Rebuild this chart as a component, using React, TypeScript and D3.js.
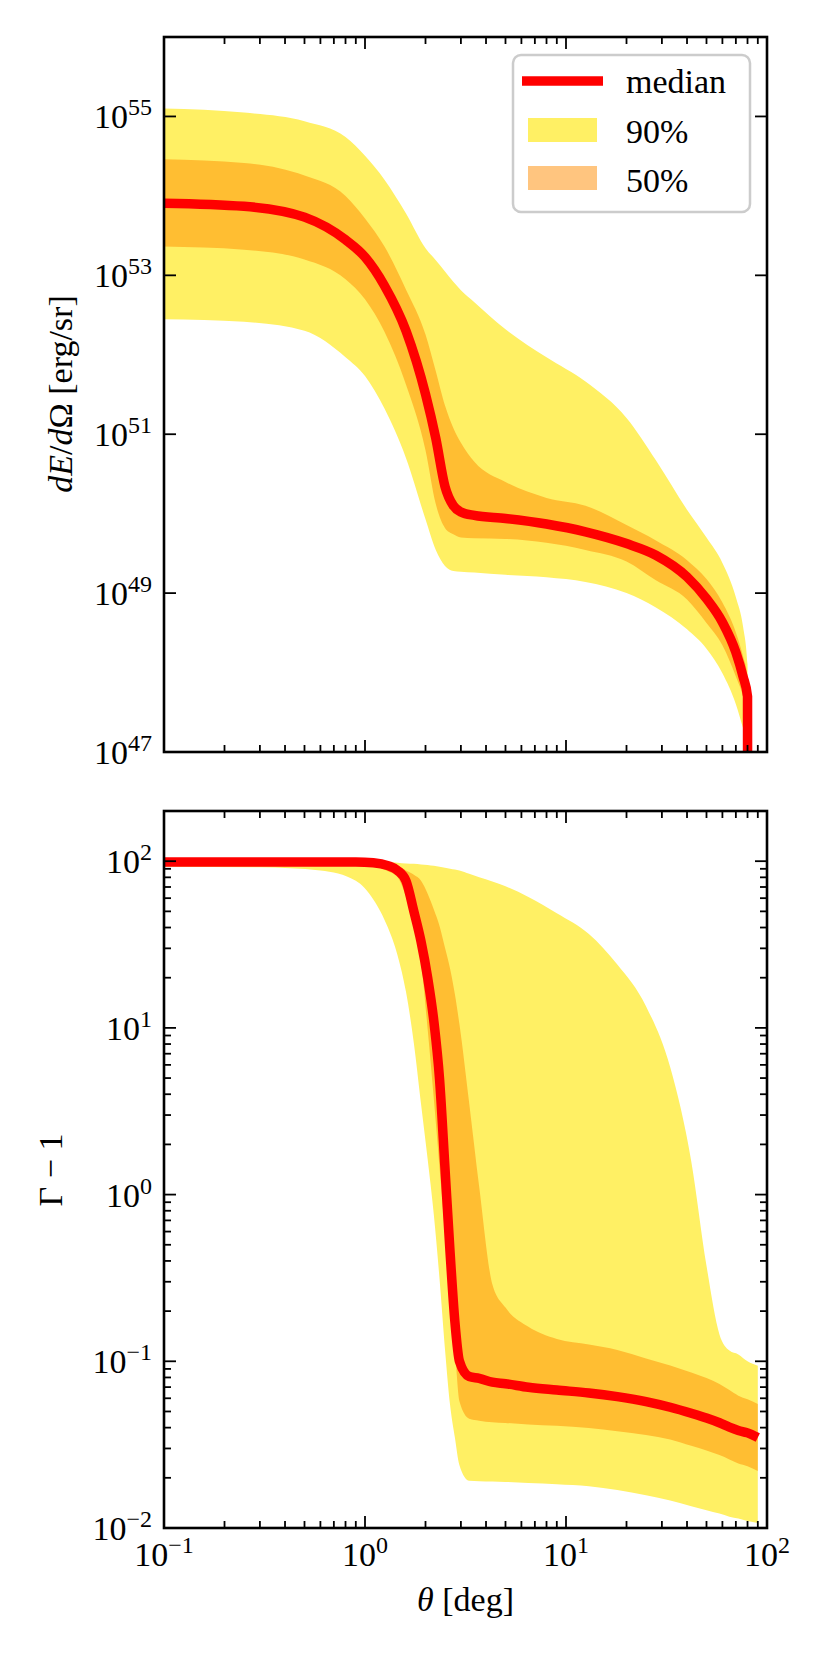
import * as d3 from "d3"

// ---- top panel: dE/dOmega vs theta ----
const thetaE = [0.1, 0.25, 0.5, 0.8, 1.0, 1.25, 1.6, 2.0, 2.25, 2.5, 2.75, 3.0, 3.5, 5, 8, 12.5, 20, 28, 40, 50, 60, 70, 76, 80, 81]
const eMedian = [8.1e53, 7.4e53, 5.4e53, 2.8e53, 1.7e53, 7.4e52, 2.0e52, 3.2e51, 8.9e50, 2.2e50, 1.26e50, 1.05e50, 9.5e49, 8.7e49, 7.4e49, 5.9e49, 4.2e49, 3.0e49, 1.6e49, 8.5e48, 4.3e48, 1.8e48, 8.9e47, 5.0e47, 1e30]
const e90Hi = [1.26e55, 1.12e55, 8.7e54, 5.5e54, 3.2e54, 1.6e54, 6.0e53, 2.2e53, 1.55e53, 1.12e53, 8.3e52, 6.5e52, 4.6e52, 2.1e52, 9.3e51, 4.6e51, 1.6e51, 4.7e50, 1.12e50, 5.0e49, 2.4e49, 8.9e48, 3.8e48, 1.26e48, 1e30]
const e90Lo = [2.8e52, 2.6e52, 2.0e52, 9.3e51, 5.4e51, 2.1e51, 5.0e50, 8.5e49, 3.5e49, 2.2e49, 1.9e49, 1.86e49, 1.82e49, 1.7e49, 1.58e49, 1.38e49, 1.0e49, 6.6e48, 3.5e48, 2.0e48, 9.8e47, 4.0e47, 2.0e47, 1.26e47, 1e30]
const e50Hi = [2.9e54, 2.6e54, 1.8e54, 1.0e54, 5.2e53, 2.3e53, 6.6e52, 1.8e52, 6.2e51, 2.3e51, 1.2e51, 7.8e50, 4.5e50, 2.5e50, 1.58e50, 1.26e50, 7.2e49, 4.6e49, 2.6e49, 1.5e49, 7.6e48, 3.2e48, 1.6e48, 8.9e47, 1e30]
const e50Lo = [2.3e53, 2.1e53, 1.58e53, 8.9e52, 5.0e52, 1.95e52, 4.2e51, 6.3e50, 1.32e50, 6.6e49, 5.5e49, 5.0e49, 4.9e49, 4.8e49, 4.3e49, 3.5e49, 2.5e49, 1.45e49, 8.3e48, 4.2e48, 2.2e48, 8.9e47, 5.0e47, 2.8e47, 1e30]

// ---- bottom panel: Gamma - 1 vs theta ----
const thetaG = [0.1, 0.3, 0.6, 0.9, 1.1, 1.3, 1.45, 1.6, 1.75, 1.9, 2.05, 2.2, 2.35, 2.5, 2.65, 2.8, 2.95, 3.3, 3.7, 4.3, 5, 6.5, 9, 13, 18, 25, 33, 42, 50, 58, 65, 72, 80, 90]
const gMedian = [99, 99, 99, 99, 98, 94, 88, 76, 50, 33, 20, 11, 4.9, 1.44, 0.45, 0.173, 0.1, 0.081, 0.079, 0.075, 0.0734, 0.0698, 0.0672, 0.0646, 0.0614, 0.0573, 0.053, 0.0488, 0.0457, 0.0428, 0.0403, 0.0385, 0.0372, 0.0349]
const g90Hi = [100, 100, 100, 100, 100, 99, 98, 97, 96.5, 95.6, 95, 93.8, 92.6, 91.4, 90.2, 89, 88, 84, 80, 75.5, 70.7, 61, 48.8, 36.6, 24, 13.5, 5.8, 1.58, 0.374, 0.145, 0.116, 0.11, 0.1, 0.094]
const g90Lo = [92.6, 92, 88, 76.4, 59, 40, 27.4, 16.4, 8.1, 3.5, 1.63, 0.757, 0.309, 0.118, 0.0547, 0.0349, 0.0238, 0.0192, 0.0191, 0.019, 0.0189, 0.0186, 0.0183, 0.0178, 0.0169, 0.0157, 0.0146, 0.0135, 0.0128, 0.0122, 0.0117, 0.0114, 0.011, 0.0107]
const g50Hi = [99.5, 99.5, 99.5, 99.5, 99.5, 98, 94.4, 88, 83, 76.4, 63.8, 51.3, 40.7, 30.2, 22.6, 15.9, 10.5, 3.52, 1.11, 0.29, 0.21, 0.161, 0.136, 0.126, 0.117, 0.104, 0.0944, 0.0857, 0.0794, 0.073, 0.0672, 0.0622, 0.0591, 0.0555]
const g50Lo = [98, 98, 98, 97, 93.8, 86.9, 80.4, 61, 40.3, 24.9, 9.8, 3.76, 1.44, 0.586, 0.239, 0.118, 0.0575, 0.0452, 0.044, 0.0431, 0.0427, 0.0418, 0.041, 0.0398, 0.038, 0.0361, 0.0339, 0.0311, 0.0292, 0.0274, 0.0258, 0.0244, 0.0235, 0.022]

// tick exponents
const xTickExps = [-1, 0, 1, 2]
const eTickExps = [47, 49, 51, 53, 55]
const gTickExps = [-2, -1, 0, 1, 2]
const legendLabels = ["median", "90%", "50%"]

const W = 829
const H = 1658
const LEFT = 164
const RIGHT = 767
const FONT = "'Liberation Serif', 'DejaVu Serif', serif"
const FS = 34
const SUP = 24

const YELLOW = "#fff064"
const ORANGE = "#ff8c00"
const RED = "#ff0000"

const x = d3.scaleLog().domain([0.1, 100]).range([LEFT, RIGHT])
const yE = d3.scaleLog().domain([1e47, 1e56]).range([752, 37])
const yG = d3.scaleLog().domain([1e-2, 2e2]).range([1528, 811])

const expText = (e: number) => (e < 0 ? "\u2212" + Math.abs(e) : String(e))

function Pow({ x, y, exp, anchor }: { x: number; y: number; exp: number; anchor: string }) {
  return (
    <text x={x} y={y} textAnchor={anchor} fontSize={FS} fontFamily={FONT}>
      10
      <tspan dy={-13} fontSize={SUP}>
        {expText(exp)}
      </tspan>
    </text>
  )
}

function Panel({
  id,
  y,
  theta,
  med,
  lo90,
  hi90,
  lo50,
  hi50,
  yTickExps,
  yMinor,
  showX,
}: {
  id: string
  y: d3.ScaleLogarithmic<number, number>
  theta: number[]
  med: number[]
  lo90: number[]
  hi90: number[]
  lo50: number[]
  hi50: number[]
  yTickExps: number[]
  yMinor: boolean
  showX: boolean
}) {
  const [y1, y0] = y.range()
  const idx = theta.map((_, i) => i)
  const band = (lo: number[], hi: number[]) =>
    d3
      .area<number>()
      .curve(d3.curveMonotoneX)
      .x((i) => x(theta[i]))
      .y0((i) => y(lo[i]))
      .y1((i) => y(hi[i]))(idx) || ""
  const medLine =
    d3
      .line<number>()
      .curve(d3.curveMonotoneX)
      .x((i) => x(theta[i]))
      .y((i) => y(med[i]))(idx) || ""

  const xMinor: number[] = []
  for (let k = -1; k <= 1; k++) for (let m = 2; m <= 9; m++) xMinor.push(m * Math.pow(10, k))
  const yMin: number[] = []
  if (yMinor) {
    const [a, b] = y.domain()
    for (let k = Math.floor(Math.log10(a)); k <= Math.ceil(Math.log10(b)); k++)
      for (let m = 2; m <= 9; m++) {
        const v = m * Math.pow(10, k)
        if (v > a && v < b) yMin.push(v)
      }
  }
  const MAJ = 12
  const MIN = 7

  return (
    <g>
      <defs>
        <clipPath id={id}>
          <rect x={LEFT} y={y0} width={RIGHT - LEFT} height={y1 - y0} />
        </clipPath>
      </defs>
      <g clipPath={`url(#${id})`}>
        <path d={band(lo90, hi90)} fill={YELLOW} />
        <path d={band(lo50, hi50)} fill={ORANGE} fillOpacity={0.5} />
        <path d={medLine} fill="none" stroke={RED} strokeWidth={9.5} strokeLinejoin="miter" />
      </g>
      {/* ticks */}
      <g stroke="#000" strokeWidth={1.8}>
        {xTickExps.map((e) => {
          const px = x(Math.pow(10, e))
          return (
            <g key={"xM" + e}>
              <line x1={px} x2={px} y1={y1} y2={y1 - MAJ} />
              <line x1={px} x2={px} y1={y0} y2={y0 + MAJ} />
            </g>
          )
        })}
        {xMinor.map((v) => {
          const px = x(v)
          return (
            <g key={"xm" + v}>
              <line x1={px} x2={px} y1={y1} y2={y1 - MIN} />
              <line x1={px} x2={px} y1={y0} y2={y0 + MIN} />
            </g>
          )
        })}
        {yTickExps.map((e) => {
          const py = y(Math.pow(10, e))
          return (
            <g key={"yM" + e}>
              <line x1={LEFT} x2={LEFT + MAJ} y1={py} y2={py} />
              <line x1={RIGHT} x2={RIGHT - MAJ} y1={py} y2={py} />
            </g>
          )
        })}
        {yMin.map((v) => {
          const py = y(v)
          return (
            <g key={"ym" + v}>
              <line x1={LEFT} x2={LEFT + MIN} y1={py} y2={py} />
              <line x1={RIGHT} x2={RIGHT - MIN} y1={py} y2={py} />
            </g>
          )
        })}
      </g>
      <rect x={LEFT} y={y0} width={RIGHT - LEFT} height={y1 - y0} fill="none" stroke="#000" strokeWidth={2.6} />
      {yTickExps.map((e) => (
        <Pow key={"yl" + e} x={LEFT - 12} y={y(Math.pow(10, e)) + 12} exp={e} anchor="end" />
      ))}
      {showX &&
        xTickExps.map((e) => <Pow key={"xl" + e} x={x(Math.pow(10, e))} y={y1 + 38} exp={e} anchor="middle" />)}
    </g>
  )
}

export default function App() {
  const legX = 513
  const legY = 55
  return (
    <svg
      width={W}
      height={H}
      viewBox={`0 0 ${W} ${H}`}
      style={{ position: "absolute", left: 0, top: 0, background: "#fff" }}
      fontFamily={FONT}
    >
      <rect width={W} height={H} fill="#fff" />
      <Panel
        id="clipE"
        y={yE}
        theta={thetaE}
        med={eMedian}
        lo90={e90Lo}
        hi90={e90Hi}
        lo50={e50Lo}
        hi50={e50Hi}
        yTickExps={eTickExps}
        yMinor={false}
        showX={false}
      />
      <Panel
        id="clipG"
        y={yG}
        theta={thetaG}
        med={gMedian}
        lo90={g90Lo}
        hi90={g90Hi}
        lo50={g50Lo}
        hi50={g50Hi}
        yTickExps={gTickExps}
        yMinor={true}
        showX={true}
      />

      {/* legend */}
      <rect x={legX} y={legY} width={237} height={157} rx={8} fill="#fff" fillOpacity={0.8} stroke="#cccccc" strokeWidth={2.5} />
      <line x1={522} x2={603} y1={81} y2={81} stroke={RED} strokeWidth={9.5} />
      <rect x={528} y={118} width={69} height={24} fill={YELLOW} />
      <rect x={528} y={166} width={69} height={24} fill={ORANGE} fillOpacity={0.5} />
      {legendLabels.map((t, i) => (
        <text key={t} x={626} y={93 + i * 49.5} fontSize={FS}>
          {t}
        </text>
      ))}

      {/* axis labels */}
      <text transform="translate(60,394) rotate(-90)" textAnchor="middle" dominantBaseline="central" fontSize={FS}>
        <tspan fontStyle="italic">dE</tspan>/<tspan fontStyle="italic">d</tspan>Ω [erg/sr]
      </text>
      <text transform="translate(50,1170) rotate(-90)" textAnchor="middle" dominantBaseline="central" fontSize={FS}>
        Γ − 1
      </text>
      <text x={(LEFT + RIGHT) / 2} y={1611} textAnchor="middle" fontSize={FS}>
        <tspan fontStyle="italic">θ</tspan> [deg]
      </text>
    </svg>
  )
}
